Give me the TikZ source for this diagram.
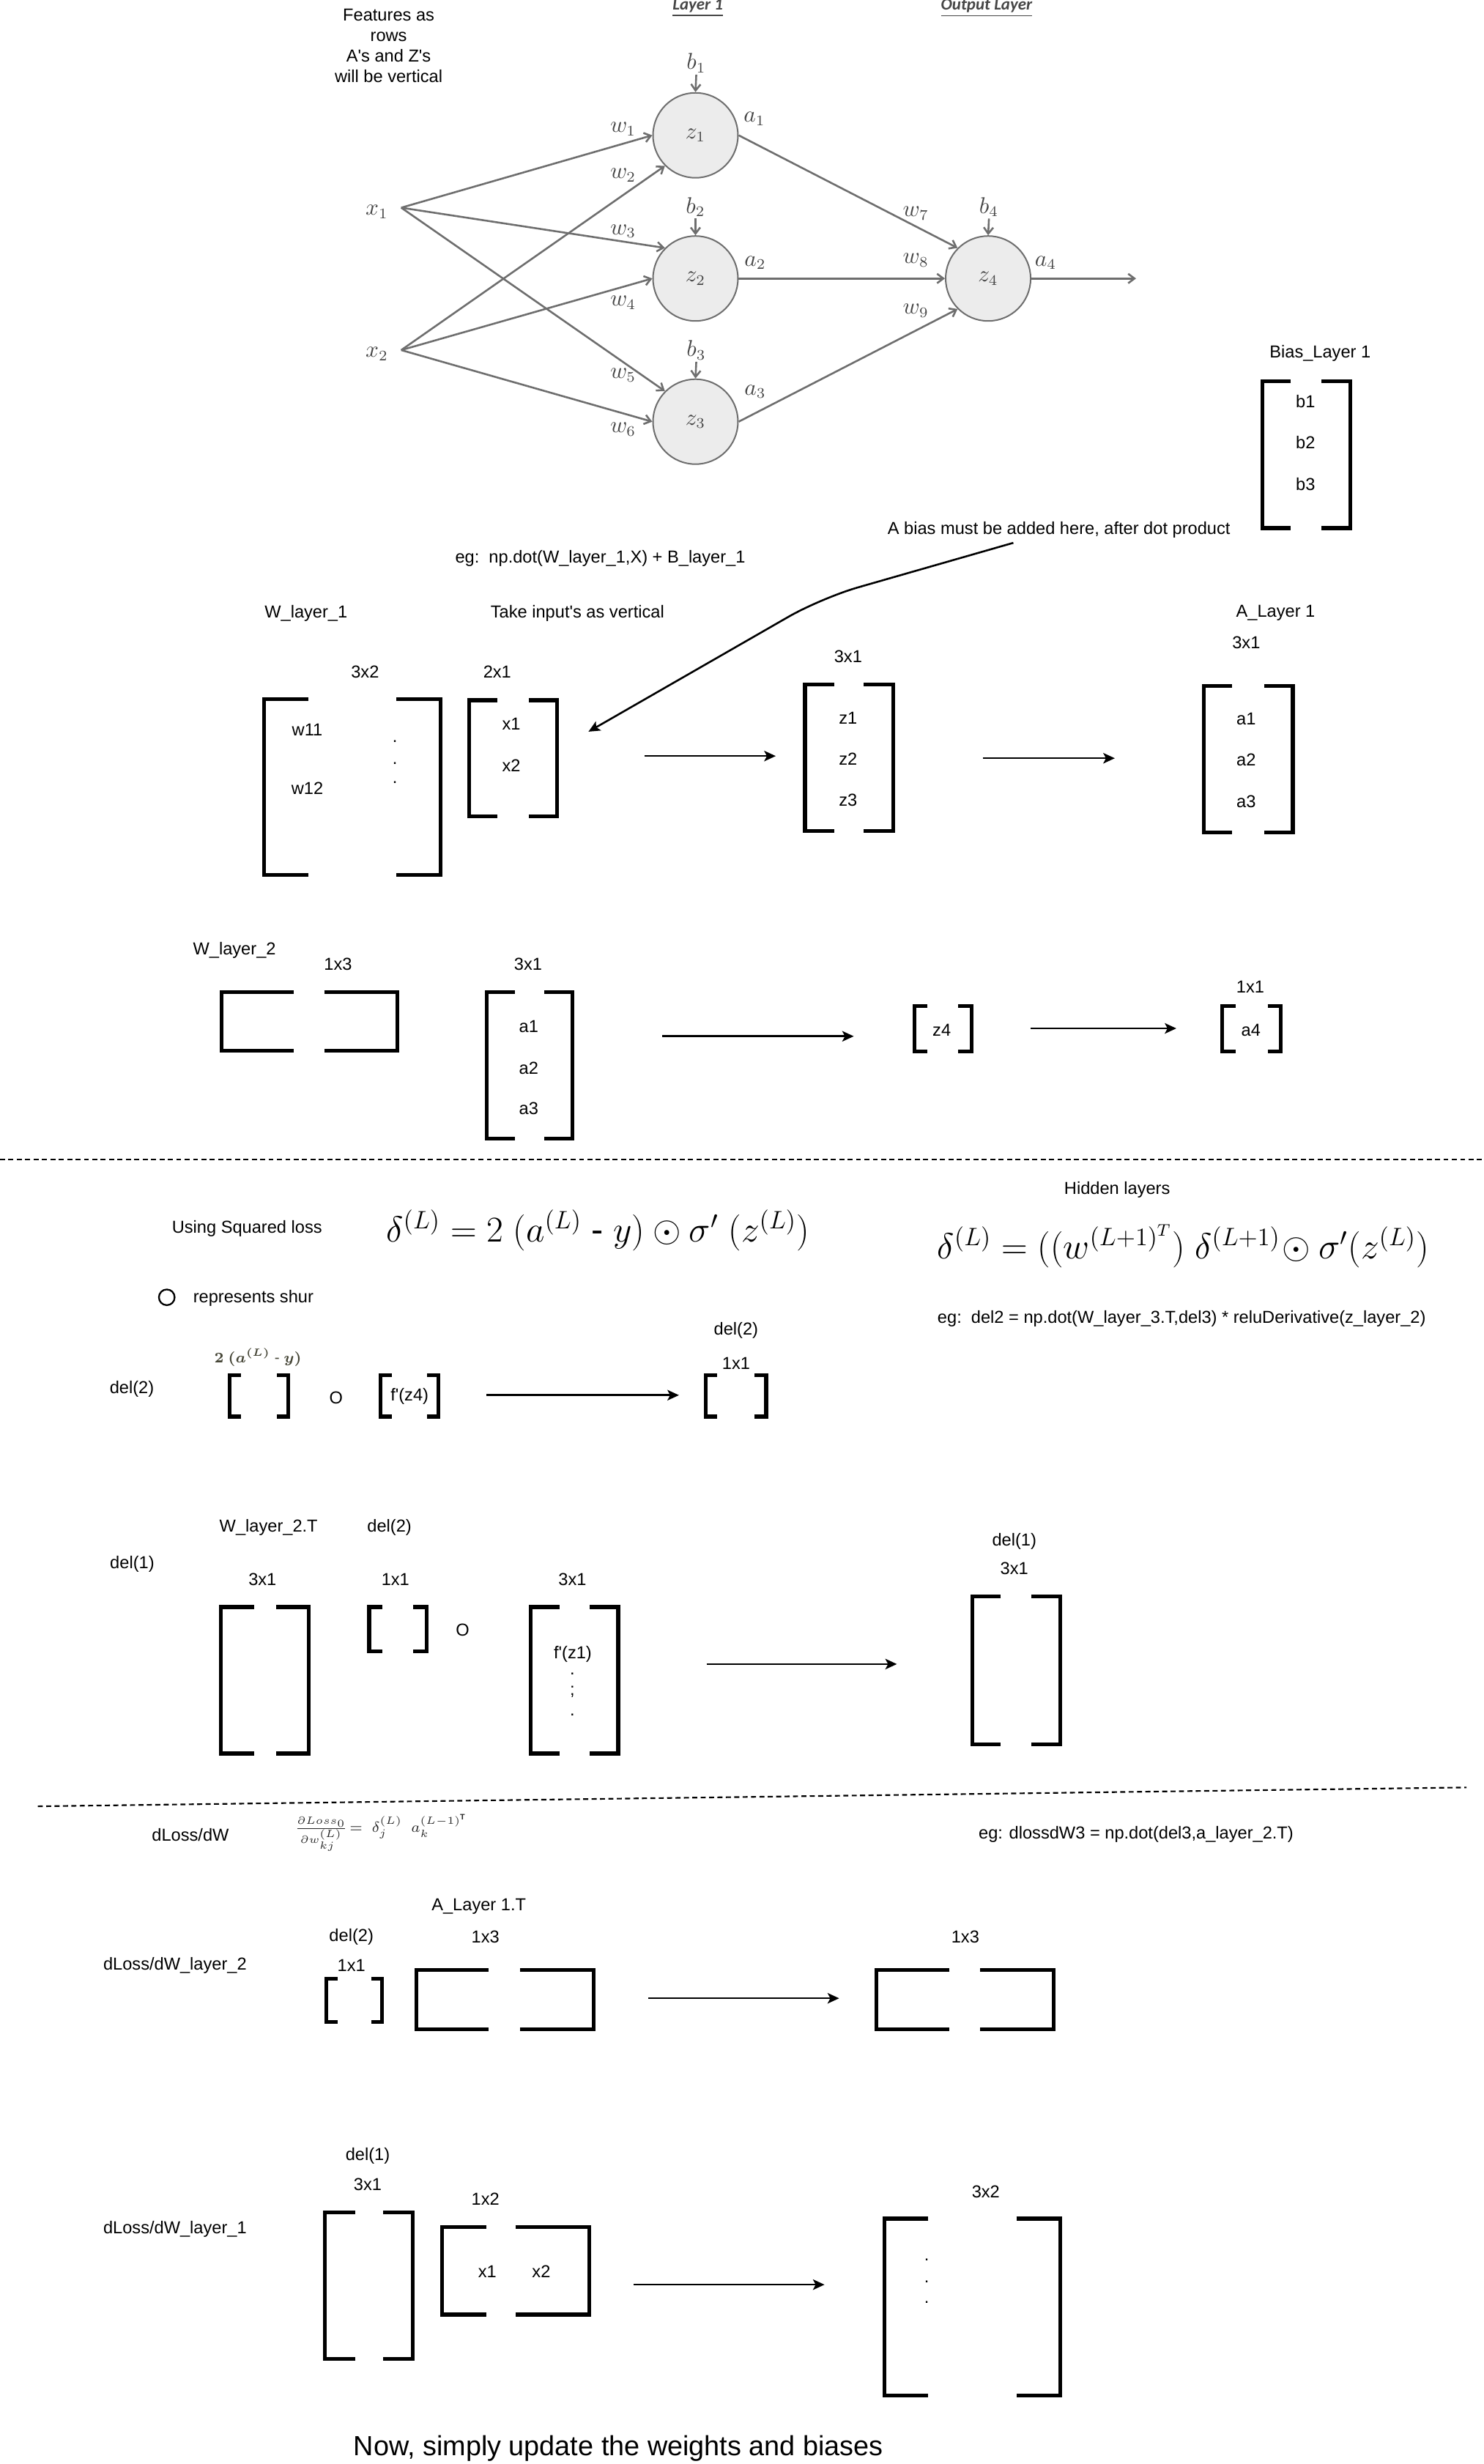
\documentclass[tikz,border=0pt]{standalone}
\usepackage{amsmath}
\usepackage{amssymb}
\usepackage{fontspec}
\setmainfont{Liberation Sans}[Ligatures=TeXOff]
\newfontfamily\calfont{Carlito}
\usetikzlibrary{arrows.meta}

\definecolor{netgray}{RGB}{70,70,70}
\definecolor{edgegray}{RGB}{110,110,110}
\definecolor{cellgray}{RGB}{236,236,236}
\definecolor{olivegray}{RGB}{70,70,55}

\tikzset{
  lbl/.style={inner sep=0.75pt},
  netlbl/.style={inner sep=0.75pt, text=netgray, font=\fontsize{10.5}{12}\selectfont},
  neuron/.style={circle, draw=edgegray, fill=cellgray, line width=0.7pt, minimum size=40.5pt, inner sep=0pt, text=netgray, font=\fontsize{10.5}{12}\selectfont},
  netarr/.style={draw=edgegray, line width=0.9pt, -{Straight Barb[length=3pt,width=4.5pt]}},
  brkline/.style={line width=1.8pt, black},
  bigarr/.style={line width=0.9pt, -{Stealth[length=5.5pt,width=5pt,inset=1.3pt]}},
  sepline/.style={line width=0.75pt, dash pattern=on 2.4pt off 1.6pt},
  shur/.style={circle, draw, line width=0.8pt, minimum size=7.5pt, inner sep=0pt},
  bigmath/.style={inner sep=0.75pt, font=\fontsize{17}{19}\selectfont},
}

% bracket pair of a matrix: left, top, right, bottom, left tick, right tick
\newcommand{\matbr}[6]{%
  \draw[brkline] (#1+#5,#2) -- (#1,#2) -- (#1,#4) -- (#1+#5,#4);
  \draw[brkline] (#3-#6,#2) -- (#3,#2) -- (#3,#4) -- (#3-#6,#4);}

\begin{document}
\begin{tikzpicture}[x=0.75pt,y=0.75pt,yscale=-1,xscale=1,font=\fontsize{8.25}{9.75}\selectfont]
\useasboundingbox (0,0) rectangle (943,1566);

% Text Node
\node[lbl, align=center] (feat) at (247,29) {Features as\\rows\\A's and Z's\\will be vertical};
% Text Node
\node[lbl, text=netgray, font=\calfont\fontsize{8}{9}\selectfont\bfseries\itshape] (lay1) at (443.5,5) {\underline{Layer 1}};
% Text Node
\node[lbl, text=netgray, font=\calfont\fontsize{8}{9}\selectfont\bfseries\itshape] (layout) at (627,5) {\underline{Output Layer}};

%Shape: Circle
\node[neuron] (z1) at (442,86) {$z_1$};
\node[neuron] (z2) at (442,177) {$z_2$};
\node[neuron] (z3) at (442,268) {$z_3$};
\node[neuron] (z4) at (628,177) {$z_4$};

% Text Node
\node[netlbl] (x1) at (239.5,134.5) {$x_1$};
\node[netlbl] (x2) at (239.5,225) {$x_2$};
\coordinate (in1) at (255,132);
\coordinate (in2) at (255,222.5);
\coordinate (out) at (722,177);

% Text Node
\node[netlbl] (b1) at (442.5,40) {$b_1$};
\node[netlbl] (b2) at (442,131.5) {$b_2$};
\node[netlbl] (b3) at (442.5,222.5) {$b_3$};
\node[netlbl] (b4) at (628.5,131.5) {$b_4$};
% Text Node
\node[netlbl] (a1) at (479.5,75.5) {$a_1$};
\node[netlbl] (a2) at (480,167) {$a_2$};
\node[netlbl] (a3) at (480,249) {$a_3$};
\node[netlbl] (a4) at (664.5,167) {$a_4$};
% Text Node
\node[netlbl] (w1) at (396,82) {$w_1$};
\node[netlbl] (w2) at (396,111.5) {$w_2$};
\node[netlbl] (w3) at (396,147) {$w_3$};
\node[netlbl] (w4) at (396,192.5) {$w_4$};
\node[netlbl] (w5) at (396,238.5) {$w_5$};
\node[netlbl] (w6) at (396,273) {$w_6$};
\node[netlbl] (w7) at (582,135.5) {$w_7$};
\node[netlbl] (w8) at (582,165.5) {$w_8$};
\node[netlbl] (w9) at (582,197.5) {$w_9$};

%Straight Lines
\draw[netarr] (b1.south) -- (z1.north);
\draw[netarr] (b2.south) -- (z2.north);
\draw[netarr] (b3.south) -- (z3.north);
\draw[netarr] (b4.south) -- (z4.north);
\draw[netarr] (in1) -- (z1.west);
\draw[netarr] (in1) -- (z2.135);
\draw[netarr] (in1) -- (z3.135);
\draw[netarr] (in2) -- (z1.225);
\draw[netarr] (in2) -- (z2.west);
\draw[netarr] (in2) -- (z3.west);
\draw[netarr] (z1.east) -- (z4.135);
\draw[netarr] (z2.east) -- (z4.west);
\draw[netarr] (z3.east) -- (z4.225);
\draw[netarr] (z4.east) -- (out);

% Text Node
\node[lbl] (biasttl) at (839,224.5) {Bias\_Layer 1};
%Shape: Bracket
\matbr{802.4}{242.3}{858}{335.6}{18}{18}
\node[lbl] (bb1) at (829.7,255) {b1};
\node[lbl] (bb2) at (829.7,281) {b2};
\node[lbl] (bb3) at (829.7,307.7) {b3};

% Text Node
\node[lbl] (biasnote) at (673,336.6) {A bias must be added here, after dot product};
\node[lbl] (egdot) at (381.5,355) {eg:\ \ np.dot(W\_layer\_1,X) + B\_layer\_1};
\coordinate (bstart) at (644,345);
\coordinate (bbend) at (522,380);
\coordinate (btip) at (374,465);
%Curve Lines
\draw[bigarr, rounded corners=18] (bstart) -- (bbend) -- (btip);

% Text Node
\node[lbl] (wl1) at (194.5,389.7) {W\_layer\_1};
\node[lbl] (takein) at (367,389.7) {Take input's as vertical};
\node[lbl] (dim32) at (232,427) {3x2};
\node[lbl] (dim21) at (316,427) {2x1};
%Shape: Bracket
\matbr{168}{444.5}{280}{556}{28}{28}
\node[lbl] (w11) at (195.3,464) {w11};
\node[lbl] (w12) at (195.3,501) {w12};
\node[lbl] (wd1) at (251,471) {.};
\node[lbl] (wd2) at (251,485) {.};
\node[lbl] (wd3) at (251,497.5) {.};
%Shape: Bracket
\matbr{298}{445}{354}{519}{18}{18}
\node[lbl] (vx1) at (325,460) {x1};
\node[lbl] (vx2) at (325,486.4) {x2};
%Straight Lines
\coordinate (m1a) at (409.6,480.5);
\coordinate (m1b) at (493,480.5);
\draw[bigarr] (m1a) -- (m1b);
% Text Node
\node[lbl] (dimz) at (539,417.3) {3x1};
%Shape: Bracket
\matbr{511.6}{435}{567.5}{528}{18.7}{18.7}
\node[lbl] (vz1) at (539,456.5) {z1};
\node[lbl] (vz2) at (539,482.5) {z2};
\node[lbl] (vz3) at (539,508.6) {z3};
%Straight Lines
\coordinate (m2a) at (624.6,481.9);
\coordinate (m2b) at (708.5,481.9);
\draw[bigarr] (m2a) -- (m2b);
% Text Node
\node[lbl] (al1) at (810.7,389.6) {A\_Layer 1};
\node[lbl] (dima) at (792,408.6) {3x1};
%Shape: Bracket
\matbr{765}{436}{821.6}{529}{18}{18}
\node[lbl] (va1) at (792,457) {a1};
\node[lbl] (va2) at (792,483) {a2};
\node[lbl] (va3) at (792,509.4) {a3};

% Text Node
\node[lbl] (wl2) at (149,604) {W\_layer\_2};
\node[lbl] (dim13) at (214.8,613) {1x3};
%Shape: Bracket
\matbr{140.8}{630.7}{252.7}{667.8}{46}{46.7}
% Text Node
\node[lbl] (dim31b) at (335.6,613) {3x1};
%Shape: Bracket
\matbr{309.4}{630.7}{363.7}{723.8}{17.7}{17.7}
\node[lbl] (ua1) at (336,652.4) {a1};
\node[lbl] (ua2) at (336,678.8) {a2};
\node[lbl] (ua3) at (336,704.4) {a3};
%Straight Lines
\coordinate (m3a) at (420.8,658.6);
\coordinate (m3b) at (542.6,658.6);
\draw[bigarr] (m3a) -- (m3b);
%Shape: Bracket
\matbr{581}{639.5}{617.5}{668.2}{8.4}{8.4}
\node[lbl] (uz4) at (598.5,654.7) {z4};
%Straight Lines
\coordinate (m4a) at (655,653.6);
\coordinate (m4b) at (747.6,653.6);
\draw[bigarr] (m4a) -- (m4b);
% Text Node
\node[lbl] (dim11) at (794.6,627) {1x1};
%Shape: Bracket
\matbr{776.7}{639.5}{814}{668.2}{8.4}{8.4}
\node[lbl] (ua4) at (795,654.7) {a4};

%Straight Lines
\draw[sepline] (0,737) -- (943,737);

% Text Node
\node[lbl] (sqloss) at (157,781) {Using Squared loss};
\node[bigmath] (delL) at (380,782) {$\delta^{(L)} = 2\ (a^{(L)}\ \text{-}\ y) \odot \sigma'\ (z^{(L)})$};
\node[lbl] (hidden) at (710,756) {Hidden layers};
\node[bigmath] (delH) at (752,792) {$\delta^{(L)} = ((w^{(L+1)^{T}})\ \delta^{(L+1)}\!\odot \sigma'(z^{(L)})$};
%Shape: Circle
\node[shur] (shurkey) at (106,824.5) {};
\node[lbl] (shurtxt) at (161,825) {represents shur};
\node[lbl] (egdel) at (751,838) {eg:\ \ del2 = np.dot(W\_layer\_3.T,del3) * reluDerivative(z\_layer\_2)};

% Text Node
\node[lbl] (d2top) at (467.8,845.6) {del(2)};
\node[lbl] (d2dim) at (467.8,866.5) {1x1};
\node[lbl] (d2lbl) at (83.8,882.8) {del(2)};
\node[lbl, text=olivegray, font=\fontsize{7.2}{8}\selectfont] (d2err) at (164,862.6) {$\boldsymbol{2\ (a^{(L)}\ \text{-}\ y)}$};
%Shape: Bracket
\matbr{145.9}{874}{183.2}{900.3}{7.2}{7.2}
\node[lbl] (o1) at (213.6,888.5) {O};
\matbr{242}{874}{278.7}{900.3}{7.2}{7.2}
\node[lbl] (fz4) at (260.3,887.4) {f'(z4)};
%Straight Lines
\coordinate (m5a) at (309,886.7);
\coordinate (m5b) at (431.5,886.7);
\draw[bigarr] (m5a) -- (m5b);
%Shape: Bracket
\matbr{448.5}{874}{486.9}{900.3}{7.2}{7.2}

% Text Node
\node[lbl] (d1lbl) at (84,994) {del(1)};
\node[lbl] (wl2t) at (170.7,971) {W\_layer\_2.T};
\node[lbl] (d2b) at (247.5,971) {del(2)};
\node[lbl] (dim31c) at (166.8,1003.8) {3x1};
\node[lbl] (dim11c) at (251.3,1003.8) {1x1};
\node[lbl] (dim31d) at (363.8,1003.8) {3x1};
%Shape: Bracket
\matbr{140.4}{1021.3}{196.3}{1114.4}{21}{21}
\matbr{234.6}{1021.3}{271}{1049.6}{8.5}{8.5}
\node[lbl] (o2) at (294,1036) {O};
\matbr{337.4}{1021.3}{392.9}{1114.4}{18.2}{18.2}
\node[lbl] (fz1) at (364,1051.1) {f'(z1)};
\node[lbl] (fd1) at (363.8,1064) {.};
\node[lbl] (fd2) at (363.8,1075) {;};
\node[lbl] (fd3) at (363.8,1089.7) {.};
%Straight Lines
\coordinate (m6a) at (449,1057.6);
\coordinate (m6b) at (570,1057.6);
\draw[bigarr] (m6a) -- (m6b);
% Text Node
\node[lbl] (d1top) at (644.6,979.8) {del(1)};
\node[lbl] (d1dim) at (644.6,997) {3x1};
%Shape: Bracket
\matbr{617.9}{1014.6}{673.7}{1108.5}{18.2}{18.2}

%Straight Lines
\draw[sepline] (24,1148) -- (932,1136);

% Text Node
\node[lbl] (dldw) at (121,1166) {dLoss/dW};
\node[lbl, text=black!85, font=\fontsize{7.5}{8.5}\selectfont] (dldwf) at (242,1165) {$\frac{\partial Loss_0}{\partial w^{(L)}_{kj}}\!=\ \delta^{(L)}_j\ \ a^{(L-1)^{\mathbf{T}}}_k$};
\node[lbl] (egdw) at (722,1166) {eg: dlossdW3 = np.dot(del3,a\_layer\_2.T)};

% Text Node
\node[lbl] (al1t) at (304.3,1211.6) {A\_Layer 1.T};
\node[lbl] (d2c) at (223.3,1231) {del(2)};
\node[lbl] (dim13b) at (308.5,1231) {1x3};
\node[lbl] (dim13c) at (613.5,1231) {1x3};
\node[lbl] (dwl2) at (111.2,1249) {dLoss/dW\_layer\_2};
\node[lbl] (dim11d) at (223.3,1249) {1x1};
%Shape: Bracket
\matbr{207.4}{1257.4}{242.9}{1285}{7}{7}
\matbr{264.6}{1252}{377.4}{1289.7}{46}{46.8}
%Straight Lines
\coordinate (m7a) at (412,1270);
\coordinate (m7b) at (533.3,1270);
\draw[bigarr] (m7a) -- (m7b);
%Shape: Bracket
\matbr{557}{1252}{669.8}{1289.7}{46.5}{46.8}

% Text Node
\node[lbl] (d1c) at (233.7,1370) {del(1)};
\node[lbl] (dim31e) at (233.7,1388.3) {3x1};
\node[lbl] (dim12) at (308.5,1397.6) {1x2};
\node[lbl] (dwl1) at (111.2,1416.5) {dLoss/dW\_layer\_1};
%Shape: Bracket
\matbr{206.6}{1406}{262.5}{1499}{19}{19}
\matbr{281}{1415.3}{374.5}{1471}{28}{47}
\node[lbl] (rx1) at (309.7,1443.7) {x1};
\node[lbl] (rx2) at (344,1443.7) {x2};
%Straight Lines
\coordinate (m8a) at (402.6,1452);
\coordinate (m8b) at (524,1452);
\draw[bigarr] (m8a) -- (m8b);
% Text Node
\node[lbl] (dim32b) at (626.5,1393.2) {3x2};
%Shape: Bracket
\matbr{562}{1410}{674}{1522.6}{28}{28}
\node[lbl] (gd1) at (589,1436) {.};
\node[lbl] (gd2) at (589,1450) {.};
\node[lbl] (gd3) at (589,1463) {.};

% Text Node
\node[lbl, font=\fontsize{13.2}{15}\selectfont] (update) at (393,1556) {Now, simply update the weights and biases};

\end{tikzpicture}
\end{document}
